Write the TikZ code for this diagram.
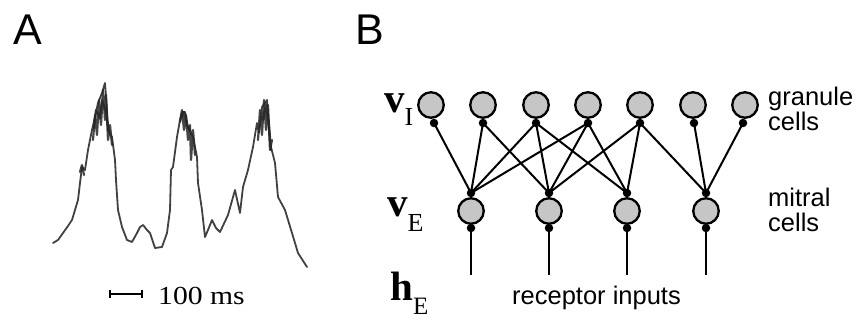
\documentclass[tikz,border=0pt]{standalone}
\usepackage{fontspec}
\setmainfont{Liberation Serif}
\newfontfamily\sansf{Liberation Sans}
\definecolor{cellfill}{RGB}{198,198,198}
\definecolor{tracecol}{RGB}{65,65,65}
\begin{document}
\begin{tikzpicture}[x=1pt,y=-1pt,
  cell/.style={circle,draw=black,line width=2.3pt,fill=cellfill,minimum size=25.5pt,inner sep=0pt},
  syn/.style={circle,fill=black,minimum size=8.5pt,inner sep=0pt},
  conn/.style={line width=2pt,black},
  plabel/.style={font=\sansf\fontsize{43}{43}\selectfont,anchor=base west,inner sep=0pt},
  vlabel/.style={font=\bfseries\fontsize{41}{41}\selectfont,anchor=base west,inner sep=0pt},
  slabel/.style={font=\sansf\fontsize{25.5}{25}\selectfont,anchor=base west,inner sep=0pt,align=left},
  trace/.style={tracecol,line width=1.8pt,line join=round,line cap=round},
  smudge/.style={black!85,line width=2.2pt,line join=round,line cap=round,opacity=0.85}]
\useasboundingbox (0,0) rectangle (857,320);

% panel labels
\node[plabel] (lA) at (13,45) {A};
\node[plabel] (lB) at (355,45) {B};

% ---- panel A: trace ----
\draw[trace] (53,243) -- (58,240) -- (63,233) -- (68,226) -- (72,220) -- (75,210) -- (78,200)
  -- (80,183) -- (82,167) -- (85,170) -- (88,150) -- (92,130) -- (95,117) -- (98,103)
  -- (102,93) -- (105,83) -- (107,110) -- (108,130) -- (112,137) -- (115,160) -- (116,180)
  -- (118,210) -- (122,227) -- (127,240) -- (132,242) -- (137,233) -- (140,227) -- (143,225)
  -- (147,230) -- (150,233) -- (155,248) -- (162,247) -- (167,233) -- (170,210) -- (171,170)
  -- (173,167) -- (177,137) -- (180,120) -- (182,112) -- (185,112) -- (188,127) -- (193,137)
  -- (197,157) -- (198,183) -- (202,210) -- (205,237) -- (208,230) -- (212,220) -- (216,228)
  -- (220,232) -- (228,215) -- (235,190) -- (240,213) -- (243,187) -- (248,170) -- (253,147)
  -- (257,123) -- (259,133) -- (262,107) -- (267,100) -- (270,143) -- (275,163) -- (278,197)
  -- (285,210) -- (292,233) -- (298,253) -- (307,267);
% dark smudges at the peaks
\draw[smudge] (93,140) -- (95,115) -- (97,135) -- (99,100) -- (101,125) -- (103,90) -- (105,120)
  -- (106,95) -- (108,140) -- (110,125) -- (112,145);
\draw[smudge] (94,128) -- (96,110) -- (100,118) -- (102,100) -- (106,112) -- (109,132);
\draw[smudge] (80,172) -- (82,165) -- (84,175);
\draw[smudge] (180,122) -- (182,110) -- (184,130) -- (186,115) -- (188,140) -- (190,125)
  -- (191,160) -- (193,130) -- (195,155);
\draw[smudge] (181,118) -- (184,112) -- (187,125) -- (190,130);
\draw[smudge] (258,140) -- (260,110) -- (262,135) -- (264,100) -- (266,130) -- (268,105)
  -- (270,150) -- (272,140);
\draw[smudge] (263,120) -- (266,104) -- (269,125) -- (271,150);

% scale bar
\coordinate (sb1) at (110,294);
\coordinate (sb2) at (142,294);
\draw[line width=2pt] (sb1) -- (sb2);
\draw[line width=1.6pt] ([yshift=-4pt]sb1) -- ([yshift=4pt]sb1);
\draw[line width=1.6pt] ([yshift=-4pt]sb2) -- ([yshift=4pt]sb2);
\node[anchor=base west,inner sep=0pt,font=\fontsize{26}{26}\selectfont] (sbt) at (158,305)
  {\scalebox{1.14}[1]{100 ms}};

% ---- panel B: network ----
% granule cells
\foreach \i/\x in {1/431,2/483,3/536,4/588,5/640,6/693,7/745}
  \coordinate (gc\i) at (\x,105);
% granule synapse positions
\coordinate (gs1) at (434,123);
\coordinate (gs2) at (483,123);
\coordinate (gs3) at (536,123);
\coordinate (gs4) at (588,123);
\coordinate (gs5) at (640,123);
\coordinate (gs6) at (694,123);
\coordinate (gs7) at (743,123);
% mitral cells
\foreach \i/\x in {1/471,2/549,3/627,4/706}{
  \coordinate (mc\i) at (\x,211);
  \coordinate (mt\i) at (\x,193);
  \coordinate (mb\i) at (\x,228);
  \coordinate (rc\i) at (\x,275);
}

% connectors granule -> mitral
\foreach \g/\m in {1/1,2/1,2/2,3/1,3/2,3/3,4/1,4/2,4/3,5/2,5/3,5/4,6/4,7/4}
  \draw[conn] (gs\g) -- (mt\m);
% receptor inputs
\foreach \i in {1,2,3,4}
  \draw[conn] (mb\i) -- (rc\i);

% cell bodies
\foreach \i in {1,...,7}
  \node[cell] (g\i) at (gc\i) {};
\foreach \i in {1,...,4}
  \node[cell] (m\i) at (mc\i) {};

% synapse dots
\foreach \i in {1,...,7}
  \node[syn] (gd\i) at (gs\i) {};
\foreach \i in {1,...,4}{
  \node[syn] (mtd\i) at (mt\i) {};
  \node[syn] (mbd\i) at (mb\i) {};
}

% variable labels
\node[vlabel] (vI) at (384,113) {v\raisebox{-13pt}{\mdseries\fontsize{26}{26}\selectfont I}};
\node[vlabel] (vE) at (387,217) {v\raisebox{-15pt}{\mdseries\fontsize{26}{26}\selectfont E}};
\node[vlabel] (hE) at (390,301) {h\raisebox{-14pt}{\mdseries\fontsize{25}{25}\selectfont E}};

% text labels (base anchor = baseline of the last line)
\node[slabel] (gran) at (768,131) {granule\\cells};
\node[slabel] (mitr) at (768,232) {mitral\\cells};
\node[slabel] (rec) at (512,305) {receptor inputs};
\end{tikzpicture}
\end{document}
